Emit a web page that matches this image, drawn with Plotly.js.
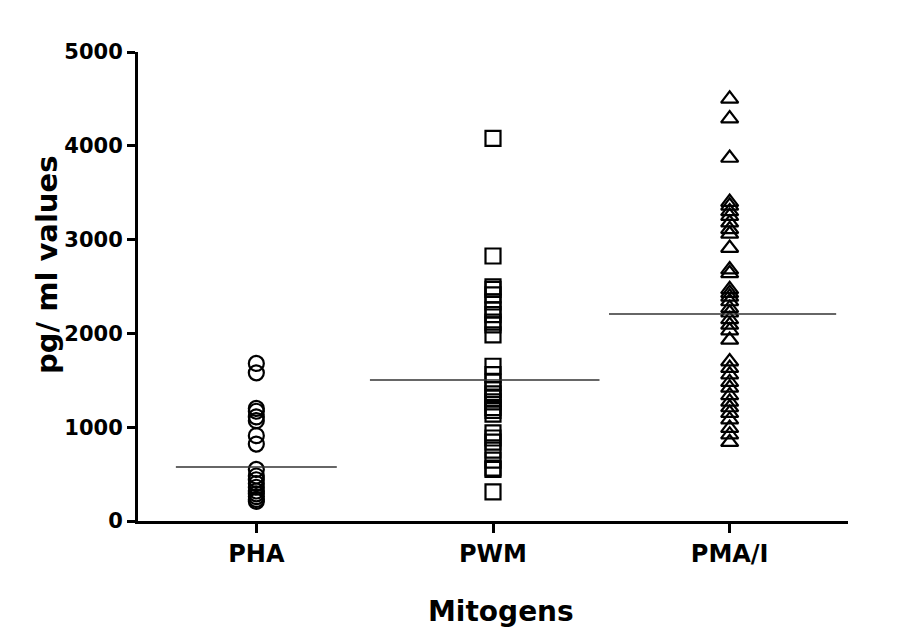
<!DOCTYPE html>
<html>
<head>
<meta charset="utf-8">
<script src="https://cdn.plot.ly/plotly-3.0.1.min.js"></script>
<style>html,body{margin:0;padding:0;background:#fff;}</style>
</head>
<body>
<div id="chart" style="width:917px;height:641px;"></div>
<script>
const categories = ["PHA", "PWM", "PMA/I"];
const phaValues = [1680, 1580, 1200, 1170, 1110, 1070, 910, 820, 550, 480, 440, 400, 360, 320, 290, 260, 230, 210];
const pwmValues = [4080, 2825, 2495, 2470, 2410, 2335, 2250, 2200, 2120, 2090, 1985, 1650, 1560, 1480, 1400, 1355, 1310, 1270, 1210, 1180, 1140, 940, 885, 840, 755, 650, 565, 550, 310];
const pmaValues = [4500, 4290, 3870, 3400, 3360, 3300, 3250, 3180, 3110, 3060, 2910, 2680, 2640, 2470, 2430, 2390, 2340, 2270, 2220, 2150, 2090, 2030, 1930, 1700, 1630, 1560, 1480, 1420, 1340, 1270, 1210, 1150, 1080, 990, 920, 840];
const medians = [576, 1503, 2207];
const yTickVals = [0, 1000, 2000, 3000, 4000, 5000];
const xTitle = "Mitogens";
const yTitle = "pg/ ml values";

const groups = [phaValues, pwmValues, pmaValues];
const symbols = ["circle-open", "square-open", "triangle-up-open"];
const lineExtent = [[-0.34, 0.34], [-0.52, 0.45], [-0.51, 0.45]];

const traces = [];
groups.forEach((vals, i) => {
  traces.push({
    type: "scatter", mode: "markers",
    x: vals.map(() => i), y: vals,
    marker: {symbol: symbols[i], size: 15, color: "#000", line: {width: 2.2, color: "#000"}},
    hoverinfo: "y", showlegend: false
  });
});

const shapes = medians.map((m, i) => ({
  type: "line", xref: "x", yref: "y",
  x0: i + lineExtent[i][0], x1: i + lineExtent[i][1], y0: m, y1: m,
  line: {color: "#333", width: 1.5}
}));

const font = "DejaVu Sans, Arial, sans-serif";
const layout = {
  width: 917, height: 641,
  margin: {l: 138, r: 69, t: 52, b: 120},
  paper_bgcolor: "#fff", plot_bgcolor: "#fff",
  showlegend: false,
  xaxis: {
    range: [-0.5, 2.5],
    tickvals: [0, 1, 2], ticktext: categories,
    showgrid: false, zeroline: false,
    showline: true, linecolor: "#000", linewidth: 3,
    ticks: "outside", ticklen: 9, tickwidth: 3, tickcolor: "#000",
    tickfont: {family: font, size: 24, color: "#000", weight: "bold"}
  },
  yaxis: {
    range: [0, 5000],
    tickvals: yTickVals, ticktext: yTickVals.map(String),
    showgrid: false, zeroline: false,
    showline: true, linecolor: "#000", linewidth: 3,
    ticks: "outside", ticklen: 8, tickwidth: 3, tickcolor: "#000",
    tickfont: {family: font, size: 21, color: "#000", weight: "bold"}
  },
  annotations: [
    {text: "<b>" + xTitle + "</b>", xref: "paper", yref: "paper",
     x: (501 - 138) / 710, y: -(611 - 521) / 469, xanchor: "center", yanchor: "middle",
     showarrow: false, font: {family: font, size: 28, color: "#000"}},
    {text: "<b>" + yTitle + "</b>", xref: "paper", yref: "paper", textangle: -90,
     x: (47 - 138) / 710, y: (521 - 265) / 469, xanchor: "center", yanchor: "middle",
     showarrow: false, font: {family: font, size: 29, color: "#000"}}
  ],
  shapes: shapes
};

Plotly.newPlot("chart", traces, layout, {displayModeBar: false, staticPlot: true});
</script>
</body>
</html>
